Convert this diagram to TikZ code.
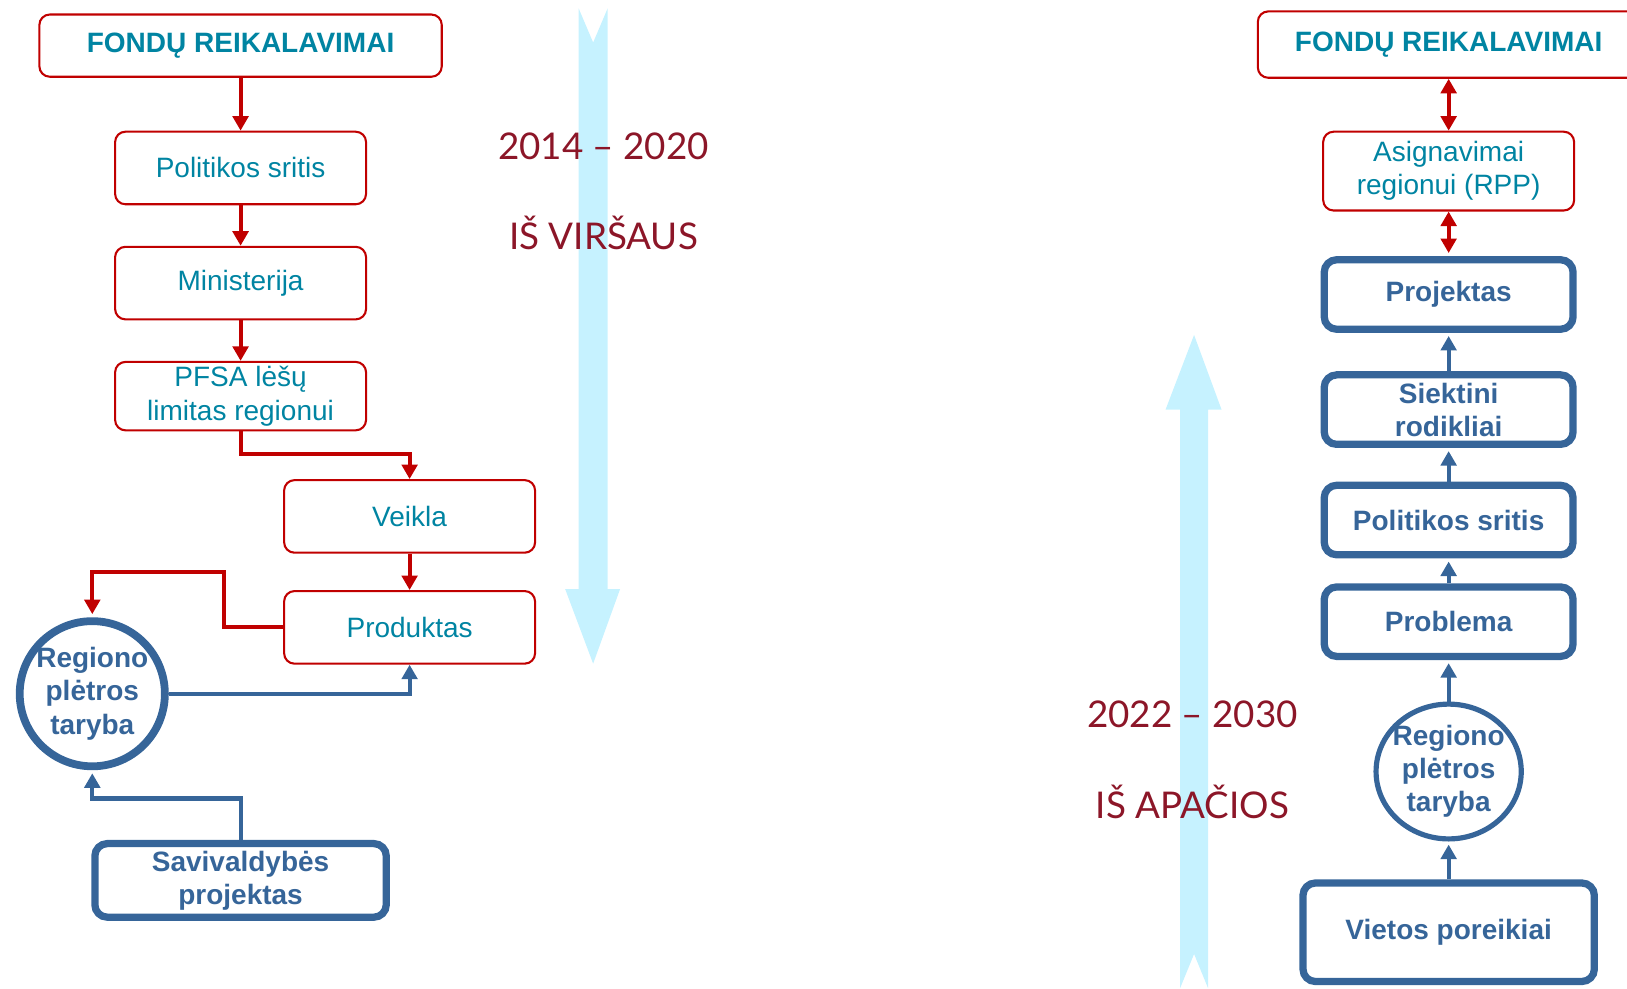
\documentclass[tikz,border=0pt]{standalone}
\usepackage{fontspec}
\setmainfont{Liberation Sans}
\newfontfamily\latofont{Lato}
\usetikzlibrary{arrows.meta,shapes.geometric}
\definecolor{kred}{RGB}{192,0,0}
\definecolor{kteal}{RGB}{0,132,162}
\definecolor{kblue}{RGB}{54,101,153}
\definecolor{kyear}{RGB}{140,22,40}
\definecolor{ksky}{RGB}{198,242,255}
\tikzset{
  redbox/.style={draw=kred, line width=2pt, rounded corners=10pt, text=kteal, align=center, minimum width=242pt, minimum height=70pt, inner sep=0pt},
  bluebox/.style={draw=kblue, line width=7pt, rounded corners=12pt, text=kblue, font=\fontsize{27}{32}\selectfont\bfseries, align=center, minimum width=240pt, minimum height=67pt, inner sep=0pt},
  bluetxt/.style={text=kblue, font=\fontsize{27}{32}\selectfont\bfseries, align=center},
  redarr/.style={draw=kred, line width=4pt, ->},
  bluearr/.style={draw=kblue, line width=4pt, ->},
  yeartxt/.style={text=kyear, font=\latofont\fontsize{35.5}{40}\selectfont}
}
\begin{document}
\begin{tikzpicture}[x=1pt, y=-1pt, font=\fontsize{27}{32}\selectfont, >={Triangle[width=15pt,length=14pt]}]
\useasboundingbox (0,0) rectangle (1569,953);
% wide background arrows
\fill[ksky] (558,8)--(572,41)--(586,8)--(586,568)--(598,568)--(572,640)--(545,568)--(558,568)--cycle;
\fill[ksky] (1138,953)--(1151.5,920)--(1165,953)--(1165,395)--(1178,395)--(1151.5,323)--(1124,395)--(1138,395)--cycle;
\node[yeartxt] (yrL) at (582,141) {2014 – 2020};
\node[yeartxt] (dirL) at (582,225) {IŠ VIRŠAUS};
\node[yeartxt] (yrR) at (1150,689) {2022 – 2030};
\node[yeartxt] (dirR) at (1150,773) {IŠ APAČIOS};
% 2014-2020
\node[redbox, minimum width=388pt, minimum height=60pt, font=\fontsize{27}{32}\selectfont\bfseries] (fondL) at (232,44) {FONDŲ REIKALAVIMAI};
\node[redbox] (polL) at (232,162) {Politikos sritis};
\node[redbox] (minL) at (232,273) {Ministerija};
\node[redbox, minimum height=66pt] (pfsaL) at (232,382) {PFSA lėšų\\limitas regionui};
\node[redbox] (veikL) at (395,498) {Veikla};
\node[redbox] (prodL) at (395,605) {Produktas};
\node[circle, draw=kblue, line width=7.5pt, minimum size=140pt] (rptL) at (89,669) {};
\node[bluetxt] (rptLtxt) at (rptL) {Regiono\\plėtros\\taryba};
\node[bluebox, minimum width=281pt, minimum height=71pt] (savL) at (232,849) {Savivaldybės\\projektas};
\draw[redarr] (fondL)--(polL);
\draw[redarr] (polL)--(minL);
\draw[redarr] (minL)--(pfsaL);
\draw[redarr] (pfsaL.south)--++(0,22)-|(veikL.north);
\draw[redarr] (veikL)--(prodL);
\draw[redarr, shorten >=3pt] (prodL.west)--++(-57,0)|-([yshift=44pt]rptL.north)--(rptL.north);
\draw[bluearr] (rptL.east)-|(prodL.south);
\draw[bluearr, shorten >=3pt] (savL.north)--++(0,-40)-|(rptL.south);
% 2022-2030
\node[redbox, minimum width=430pt, minimum height=64pt, anchor=north west] (fondR) at (1212,10) {};
\node[redbox, draw=none, font=\fontsize{27}{32}\selectfont\bfseries] (fondRtxt) at (1397,43) {FONDŲ REIKALAVIMAI};
\node[redbox, minimum width=242pt, minimum height=76pt] (asigR) at (1397,165) {Asignavimai\\regionui (RPP)};
\node[bluebox] (projR) at (1397,284) {Projektas};
\node[bluebox] (siekR) at (1397,395) {Siektini\\rodikliai};
\node[bluebox] (polR) at (1397,501.5) {Politikos sritis};
\node[bluebox] (probR) at (1397,599.5) {Problema};
\node[ellipse, draw=kblue, line width=5pt, minimum width=140pt, minimum height=130pt] (rptR) at (1397,744) {};
\node[bluetxt] (rptRtxt) at (rptR) {Regiono\\plėtros\\taryba};
\node[bluebox, minimum width=281pt, minimum height=95pt] (vietR) at (1397,899) {Vietos poreikiai};
\draw[redarr, <->] (asigR|-fondR.south)--(asigR.north);
\draw[redarr, <->, shorten >=3pt] (asigR)--(projR);
\foreach \a/\b in {siekR/projR, polR/siekR, probR/polR, rptR/probR, vietR/rptR}
  \draw[bluearr, shorten >=3pt] (\a)--(\b);
\end{tikzpicture}
\end{document}
